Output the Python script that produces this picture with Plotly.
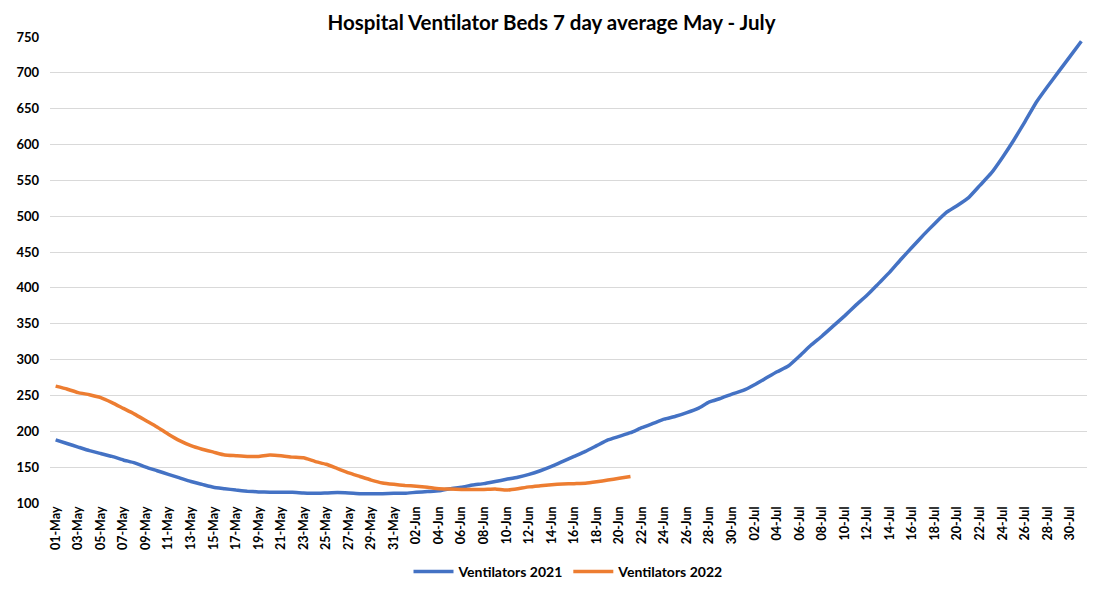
import plotly.graph_objects as go
import pandas as pd

days = [d.strftime("%d-%b") for d in pd.date_range("2021-05-01", "2021-07-31", freq="D")]

vent_2021 = [188, 183, 178, 173, 169, 165, 160, 156, 150, 145,
             140, 135, 130, 126, 122, 120, 118, 116.5, 115.5, 115,
             115, 115, 114, 113.5, 114, 114.5, 114, 113, 113, 113,
             113.5, 113.5, 115, 116, 117, 120, 122, 125, 127, 130,
             133, 136, 140, 145, 151, 158, 165, 172, 180, 188,
             193, 198, 205, 211, 217, 221, 226, 232, 241, 246,
             252, 257, 265, 274, 283, 291, 305, 320, 333, 347,
             361, 376, 390, 406, 422, 440, 457, 474, 490, 505,
             515, 526, 543, 560, 582, 606, 632, 659, 681, 702,
             723, 744]

vent_2022 = [263, 259, 254, 251, 247, 240, 232, 224, 215, 206,
             196, 187, 180, 175, 171, 167, 166, 165, 165, 167,
             166, 164, 163, 158, 154, 148, 142, 137, 132, 128,
             126, 124.5, 123.5, 122, 120, 119.5, 119, 119, 119, 119.5,
             118, 120, 122.5, 124, 125.5, 126.5, 127, 127.5, 129.5, 132,
             134.5, 137]

tick_labels = days[::2]
y_ticks = list(range(100, 751, 50))

fig = go.Figure()
fig.add_trace(go.Scatter(x=days, y=vent_2021, mode="lines", name="Ventilators 2021",
                         line=dict(color="#4472C4", width=3.5, shape="spline", smoothing=0.4)))
fig.add_trace(go.Scatter(x=days[:len(vent_2022)], y=vent_2022, mode="lines", name="Ventilators 2022",
                         line=dict(color="#ED7D31", width=3.5, shape="spline", smoothing=0.4)))

fnt = "Lato"
fig.update_layout(
    width=1103, height=600,
    paper_bgcolor="white", plot_bgcolor="white",
    margin=dict(l=50, r=16, t=37, b=91),
    title=dict(text="<b>Hospital Ventilator Beds 7 day average May - July</b>",
               x=0.5, xanchor="center", y=0.962, yanchor="middle",
               font=dict(family=fnt, size=20.5, color="#000000")),
    legend=dict(orientation="h", x=0.5, xanchor="center", y=-0.148, yanchor="middle",
                font=dict(family=fnt, size=14, color="#000000", weight="bold"),
                itemwidth=40),
    showlegend=True,
)
fig.update_xaxes(type="category", categoryorder="array", categoryarray=days,
                 range=[-0.5, len(days) - 0.5], automargin=False,
                 tickmode="array", tickvals=tick_labels, ticktext=tick_labels,
                 tickangle=-90, showgrid=False, showline=False, ticks="",
                 tickfont=dict(family=fnt, size=12.5, color="#000000", weight="bold"),
                 zeroline=False)
fig.update_yaxes(range=[100, 750], tickmode="array", tickvals=y_ticks, automargin=False,
                 showgrid=True, gridcolor="#D9D9D9", gridwidth=1,
                 showline=False, ticks="", zeroline=False, ticklabelstandoff=10,
                 tickfont=dict(family=fnt, size=13, color="#000000", weight="bold"))

fig.write_html("out.html", config={"displayModeBar": False},
               post_script="document.body.style.margin='0px';document.body.style.overflow='hidden';")
